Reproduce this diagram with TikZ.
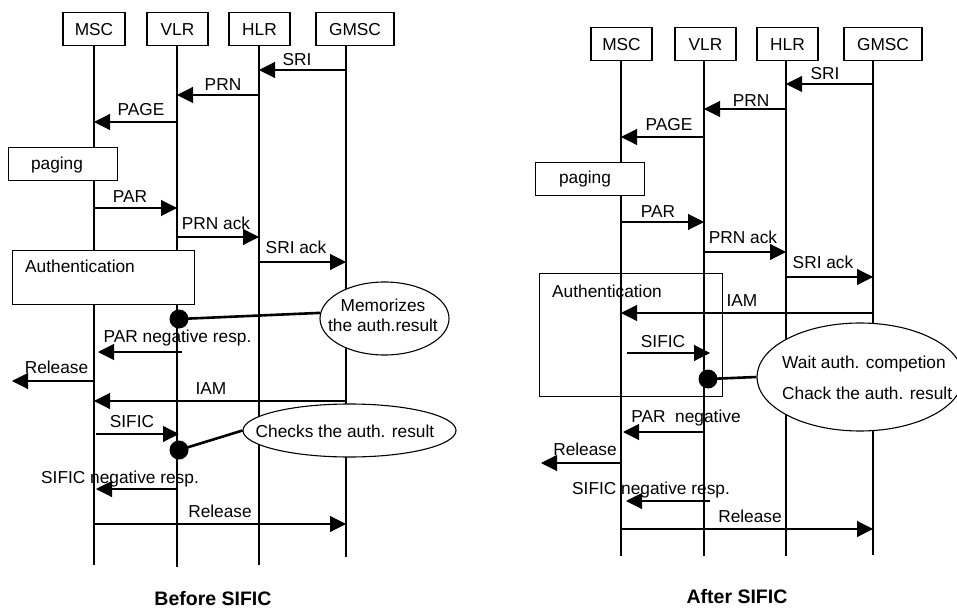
\documentclass[tikz,border=0pt]{standalone}
\usepackage{fontspec}
\setmainfont{Liberation Sans}
\usetikzlibrary{arrows.meta,shapes.geometric,calc}
\begin{document}
\begin{tikzpicture}[x=1pt,y=-1pt,
  life/.style={line width=1.1pt},
  ent/.style={draw, line width=1.1pt, fill=white, inner sep=0, minimum height=33pt, text height=12.4pt, text depth=0pt, font=\fontsize{17.3}{20}\selectfont},
  msg/.style={line width=1.1pt, -{Triangle[length=16pt,width=16pt]}},
  lbl/.style={inner sep=0, text height=12.4pt, text depth=0pt, font=\fontsize{17.3}{20}\selectfont},
  opbox/.style={draw, line width=1.1pt, fill=white, inner sep=0, anchor=north west},
  frm/.style={draw, line width=1.1pt, inner sep=0, anchor=north west},
  note/.style={draw, ellipse, line width=1.1pt, fill=white, inner sep=0},
  dotc/.style={circle, fill=black, inner sep=0, minimum size=19pt},
  link/.style={line width=2.6pt},
  ttl/.style={inner sep=0, text height=14pt, text depth=0pt, font=\fontsize{19.5}{22}\bfseries\selectfont}
]
\useasboundingbox (0,0) rectangle (957,609);

% ================= LEFT: Before SIFIC =================
\coordinate (lM) at (94,45);
\coordinate (lV) at (177,45);
\coordinate (lH) at (259,45);
\coordinate (lG) at (346,45);
\draw[life] (lM) -- (lM |- 0,565);
\draw[life] (lV) -- (lV |- 0,567);
\draw[life] (lH) -- (lH |- 0,565);
\draw[life] (lG) -- (lG |- 0,557);

\node[ent, minimum width=62pt] (mscA) at (94,29) {MSC};
\node[ent, minimum width=61pt] (vlrA) at (177.5,29) {VLR};
\node[ent, minimum width=61pt] (hlrA) at (259.5,29) {HLR};
\node[ent, minimum width=78pt] (gmscA) at (355,29) {GMSC};

\node[opbox, minimum width=109pt, minimum height=33pt] (pagA) at (8,147) {};
\node[lbl] (pagAt) at (57,163) {paging};
\node[opbox, minimum width=182pt, minimum height=54pt] (authA) at (12,250) {};
\node[lbl, anchor=west] (authAt) at (25,266) {Authentication};

\draw[msg] (lG |- 0,70) -- (lH |- 0,70);
\node[lbl] (a1) at (297,59) {SRI};
\draw[msg] (lH |- 0,95) -- (lV |- 0,95);
\node[lbl] (a2) at (223,84) {PRN};
\draw[msg] (lV |- 0,122) -- (lM |- 0,122);
\node[lbl] (a3) at (141,109) {PAGE};
\draw[msg] (lM |- 0,208) -- (lV |- 0,208);
\node[lbl] (a4) at (130,196) {PAR};
\draw[msg] (lV |- 0,237) -- (lH |- 0,237);
\node[lbl] (a5) at (216,223) {PRN ack};
\draw[msg] (lH |- 0,262) -- (lG |- 0,262);
\node[lbl] (a6) at (296,247) {SRI ack};

\node[note, minimum width=129pt, minimum height=73pt] (memA) at (384.5,318.5) {};
\node[lbl] (memAt1) at (383,305) {Memorizes};
\node[lbl] (memAt2) at (383,325) {the auth.result};
\node[dotc] (dA1) at (179,319) {};
\draw[link] (dA1.center) -- (memA.175);

\draw[msg] ($(lV |- 0,352)+(5,0)$) -- ($(lM |- 0,352)+(4,0)$);
\node[lbl] (a7) at (177.5,336) {PAR negative resp.};
\coordinate (relA) at (12,381);
\draw[msg] (lM |- 0,381) -- (relA);
\node[lbl] (a8) at (56.5,367) {Release};
\draw[msg] (lG |- 0,401) -- (lM |- 0,401);
\node[lbl] (a9) at (211,388) {IAM};
\draw[msg] ($(lM |- 0,434)+(2,0)$) -- ($(lV |- 0,434)+(2,0)$);
\node[lbl] (a10) at (132,421) {SIFIC};

\node[note, minimum width=213pt, minimum height=53pt] (chkA) at (349.5,430.5) {};
\node[lbl] (chkAt) at (345,431) {Checks the auth. result};
\node[dotc] (dA2) at (179,450) {};
\draw[link] (dA2.center) -- (chkA.west);

\draw[msg] (lV |- 0,489) -- ($(lM |- 0,489)+(2,0)$);
\node[lbl] (a11) at (120,477) {SIFIC negative resp.};
\draw[msg] (lM |- 0,524) -- (lG |- 0,524);
\node[lbl] (a12) at (220,511) {Release};

\node[ttl] (ttlA) at (213,598) {Before SIFIC};

% ================= RIGHT: After SIFIC =================
\coordinate (rM) at (621,61);
\coordinate (rV) at (704,61);
\coordinate (rH) at (786,61);
\coordinate (rG) at (873,61);
\draw[life] (rM) -- (rM |- 0,556);
\draw[life] (rV) -- (rV |- 0,556);
\draw[life] (rH) -- (rH |- 0,556);
\draw[life] (rG) -- (rG |- 0,555);

\node[ent, minimum width=61pt] (mscB) at (621.5,44) {MSC};
\node[ent, minimum width=61pt] (vlrB) at (705.5,44) {VLR};
\node[ent, minimum width=61pt] (hlrB) at (787.5,44) {HLR};
\node[ent, minimum width=78pt] (gmscB) at (883,44) {GMSC};

\node[opbox, minimum width=109pt, minimum height=33pt] (pagB) at (535,162) {};
\node[lbl] (pagBt) at (585,177) {paging};
\node[frm, minimum width=183pt, minimum height=123pt] (authB) at (539,273) {};
\node[lbl] (authBt) at (607,291) {Authentication};

\draw[msg] (rG |- 0,84) -- (rH |- 0,84);
\node[lbl] (b1) at (825,73) {SRI};
\draw[msg] (rH |- 0,109) -- (rV |- 0,109);
\node[lbl] (b2) at (751,100) {PRN};
\draw[msg] (rV |- 0,137) -- (rM |- 0,137);
\node[lbl] (b3) at (669,124) {PAGE};
\draw[msg] (rM |- 0,222) -- (rV |- 0,222);
\node[lbl] (b4) at (658,211) {PAR};
\draw[msg] (rV |- 0,252) -- (rH |- 0,252);
\node[lbl] (b5) at (743,237) {PRN ack};
\draw[msg] (rH |- 0,277) -- (rG |- 0,277);
\node[lbl] (b6) at (823,262) {SRI ack};
\draw[msg] (rG |- 0,313) -- (rM |- 0,313);
\node[lbl] (b7) at (742,300) {IAM};
\draw[msg] ($(rM |- 0,353)+(6,0)$) -- ($(rV |- 0,353)+(6,0)$);
\node[lbl] (b8) at (663,341) {SIFIC};

\node[note, minimum width=206pt, minimum height=108pt] (waitB) at (860,377) {};
\node[lbl, anchor=west] (waitBt1) at (782,362) {Wait auth. competion};
\node[lbl, anchor=west] (waitBt2) at (782,393) {Chack the auth. result};
\node[dotc] (dB) at (708,379) {};
\draw[link] (dB.center) -- (waitB.west);

\draw[msg] (rV |- 0,432) -- ($(rM |- 0,432)+(2,0)$);
\node[lbl] (b9) at (686,416) {PAR\ \ negative};
\coordinate (relB) at (541,463);
\draw[msg] (rM |- 0,463) -- (relB);
\node[lbl] (b10) at (585,449) {Release};
\draw[msg] ($(rV |- 0,501)+(6,0)$) -- ($(rM |- 0,501)+(5,0)$);
\node[lbl] (b11) at (651,488) {SIFIC negative resp.};
\draw[msg] (rM |- 0,529) -- (rG |- 0,529);
\node[lbl] (b12) at (750,516) {Release};

\node[ttl] (ttlB) at (737,596) {After SIFIC};
\end{tikzpicture}
\end{document}
